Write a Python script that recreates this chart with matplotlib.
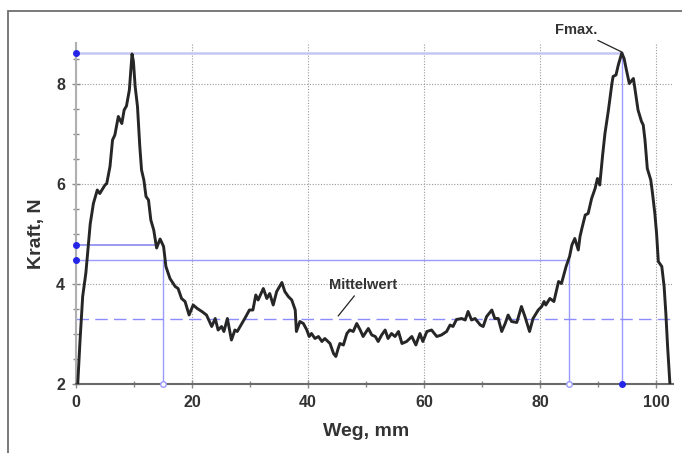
import matplotlib
matplotlib.use("Agg")
import matplotlib.pyplot as plt
from matplotlib.patches import Rectangle
from matplotlib.ticker import MultipleLocator

# ---- data ----
weg = [0.3, 0.7, 1.15, 1.7, 2.1, 2.45, 3.0, 3.67, 4.1, 5.0, 5.3, 5.86, 6.3, 6.7, 7.3, 7.9, 8.3, 8.7, 9.2,
       9.66, 9.9, 10.2, 10.6, 11.0, 11.3, 11.7, 12.07, 12.5, 12.9, 13.4, 13.9, 14.5, 15.1, 15.5, 16.2,
       17.1, 17.6, 18.2, 18.8, 19.5, 20.2, 20.9, 21.7, 22.5, 23.4, 24.0, 24.5, 25.1, 25.5, 26.1, 26.8,
       27.4, 27.8, 28.3, 29.1, 29.9, 30.5, 31.0, 31.4, 32.3, 32.9, 33.4, 34.0, 34.6, 35.5, 36.0, 36.6,
       37.2, 37.8, 38.0, 38.6, 39.2, 39.8, 40.2, 40.6, 41.2, 41.8, 42.4, 42.9, 43.8, 44.4, 44.8, 45.2,
       45.5, 46.1, 46.7, 47.2, 47.8, 48.4, 49.0, 49.5, 50.4, 51.0, 51.6, 52.1, 52.7, 53.3, 53.8, 54.4,
       55.0, 55.6, 56.2, 57.0, 57.9, 58.6, 59.3, 59.8, 60.5, 61.3, 62.2, 63.0, 63.9, 64.5, 65.0, 65.6,
       66.5, 67.1, 67.6, 68.2, 68.8, 69.7, 70.2, 70.8, 71.7, 72.2, 72.8, 73.4, 74.0, 74.5, 75.1, 76.0,
       76.8, 77.4, 78.2, 78.8, 79.7, 80.3, 80.7, 81.0, 81.7, 82.4, 83.2, 83.7, 84.5, 85.1, 85.5, 86.0,
       86.6, 86.9, 87.2, 87.8, 88.3, 88.9, 89.5, 89.9, 90.3, 90.8, 91.2, 91.8, 92.4, 92.6, 93.1, 93.5,
       94.1, 94.5, 94.9, 95.4, 96.1, 96.4, 96.9, 97.5, 97.8, 98.1, 98.5, 99.1, 99.4, 99.8, 100.1, 100.4,
       101.0, 101.4, 101.7, 102.0, 102.4]
kraft = [2.0, 2.88, 3.75, 4.22, 4.75, 5.2, 5.61, 5.88, 5.81, 5.98, 6.01, 6.35, 6.88, 6.98, 7.35, 7.21, 7.48,
         7.56, 7.88, 8.6, 8.45, 7.95, 7.55, 6.75, 6.28, 6.08, 5.75, 5.68, 5.28, 5.08, 4.72, 4.9, 4.75,
         4.35, 4.11, 3.95, 3.91, 3.71, 3.65, 3.38, 3.58, 3.51, 3.45, 3.38, 3.15, 3.31, 3.08, 3.15, 3.05,
         3.31, 2.88, 3.08, 3.05, 3.15, 3.31, 3.48, 3.48, 3.78, 3.68, 3.91, 3.71, 3.81, 3.58, 3.85, 4.03,
         3.85, 3.75, 3.68, 3.48, 3.05, 3.25, 3.21, 3.08, 2.95, 3.01, 2.91, 2.95, 2.85, 2.91, 2.81, 2.61,
         2.55, 2.71, 2.81, 2.78, 3.01, 3.08, 3.05, 3.21, 3.08, 2.95, 3.11, 2.98, 2.95, 2.85, 2.98, 3.08,
         2.91, 3.01, 2.95, 3.05, 2.81, 2.85, 2.95, 2.78, 3.01, 2.85, 3.05, 3.08, 2.95, 2.98, 3.05, 3.18,
         3.15, 3.29, 3.31, 3.28, 3.45, 3.28, 3.31, 3.18, 3.15, 3.35, 3.48, 3.31, 3.31, 3.05, 3.21, 3.38,
         3.25, 3.23, 3.55, 3.35, 3.05, 3.31, 3.48, 3.55, 3.65, 3.58, 3.71, 3.65, 4.05, 4.01, 4.35, 4.55,
         4.78, 4.91, 4.68, 4.95, 5.1, 5.38, 5.41, 5.71, 5.91, 6.11, 5.98, 6.58, 7.01, 7.48, 8.01, 8.15,
         8.18, 8.38, 8.62, 8.51, 8.28, 8.01, 8.11, 7.88, 7.48, 7.25, 7.18, 6.88, 6.31, 6.08, 5.81, 5.41,
         5.01, 4.45, 4.35, 3.95, 3.41, 2.75, 2.0]

x_ticks = [0, 20, 40, 60, 80, 100]
y_ticks = [2, 4, 6, 8]
mittelwert = 3.3
f_max = 8.62
x_fmax = 94.1
f_a = 4.78
x_a = 13.9
f_b = 4.48
x_b1 = 15.0
x_b2 = 85.0

plt.rcParams['font.family'] = ['Liberation Sans', 'DejaVu Sans']
plt.rcParams['font.weight'] = 'bold'

fig = plt.figure(figsize=(6.82, 4.53), dpi=100)
fig.patch.set_facecolor('white')
fig.patches.append(Rectangle((8 / 682, -0.5), 1.5, 0.5 + (1 - 11 / 453),
                             transform=fig.transFigure, fill=False,
                             edgecolor='#6e6e6e', linewidth=1.3, zorder=0))

ax = fig.add_axes([76 / 682, 1 - 384 / 453, (673.4 - 76) / 682, (384 - 43) / 453])
ax.set_xlim(0, 103)
ax.set_ylim(2, 8.82)

ax.set_xticks(x_ticks)
ax.set_yticks(y_ticks)
ax.xaxis.set_minor_locator(MultipleLocator(10))
ax.yaxis.set_minor_locator(MultipleLocator(0.5))
ax.grid(True, which='major', linestyle=(0, (1, 1.5)), color='#9a9a9a', linewidth=0.8)
ax.set_axisbelow(True)

for s in ['top', 'right']:
    ax.spines[s].set_visible(False)
ax.spines['left'].set_color('#b0b0b0')
ax.spines['left'].set_linewidth(1.5)
ax.spines['bottom'].set_color('#6a6a6a')
ax.spines['bottom'].set_linewidth(1.5)

ax.tick_params(which='both', direction='inout', color='#888888', width=1)
ax.tick_params(which='major', length=6, labelsize=11.5, labelcolor='#333333', pad=5)
ax.tick_params(which='minor', length=5)
for lbl in ax.get_xticklabels() + ax.get_yticklabels():
    lbl.set_fontweight('bold')

# reference lines
blue = '#9a9aff'
ax.plot([0, x_fmax], [f_max, f_max], color='#c6c6f2', linewidth=1.8, zorder=2)
ax.plot([x_fmax, x_fmax], [2, f_max], color=blue, linewidth=1, zorder=2)
ax.plot([0, x_a], [f_a, f_a], color='#7f7fec', linewidth=1.1, zorder=2)
ax.plot([0, x_b2], [f_b, f_b], color=blue, linewidth=1, zorder=2)
ax.plot([x_b1, x_b1], [2, f_b], color=blue, linewidth=1, zorder=2)
ax.plot([x_b2, x_b2], [2, f_b], color=blue, linewidth=1, zorder=2)
ax.plot([0, 103], [mittelwert, mittelwert], color='#8c8cff', linewidth=1,
        dashes=(9, 4.5), zorder=2)

# curve
ax.plot(weg, kraft, color='#262626', linewidth=2.1, solid_joinstyle='round', zorder=4)

# markers
ax.plot([0, 0, 0, x_fmax], [f_max, f_a, f_b, 2], 'o', color='#2525e8', markersize=4,
        clip_on=False, zorder=5)
ax.plot([x_b1, x_b2], [2, 2], 'o', markerfacecolor='white', markeredgecolor='#9a9aff',
        markersize=4, markeredgewidth=1, clip_on=False, zorder=5)

# annotations
ax.annotate('Mittelwert', xy=(45.2, 3.36), xytext=(49.5, 3.98), fontsize=10.5,
            fontweight='bold', color='#333333', ha='center', va='center',
            arrowprops=dict(arrowstyle='-', color='#222222', linewidth=0.9,
                            shrinkA=1, shrinkB=0))
ax.annotate('Fmax.', xy=(x_fmax, 8.64), xytext=(86.3, 9.08), fontsize=10.5,
            fontweight='bold', color='#333333', ha='center', va='center',
            annotation_clip=False,
            arrowprops=dict(arrowstyle='-', color='#222222', linewidth=0.9,
                            shrinkA=1, shrinkB=0))

fig.text(366 / 682, 1 - 432 / 453, 'Weg, mm', ha='center', va='center',
         fontsize=14, fontweight='bold', color='#333333')
fig.text(36 / 682, 1 - 234 / 453, 'Kraft, N', ha='center', va='center', rotation=90,
         fontsize=14, fontweight='bold', color='#333333')

fig.savefig('out.png', dpi=100, facecolor='white')
